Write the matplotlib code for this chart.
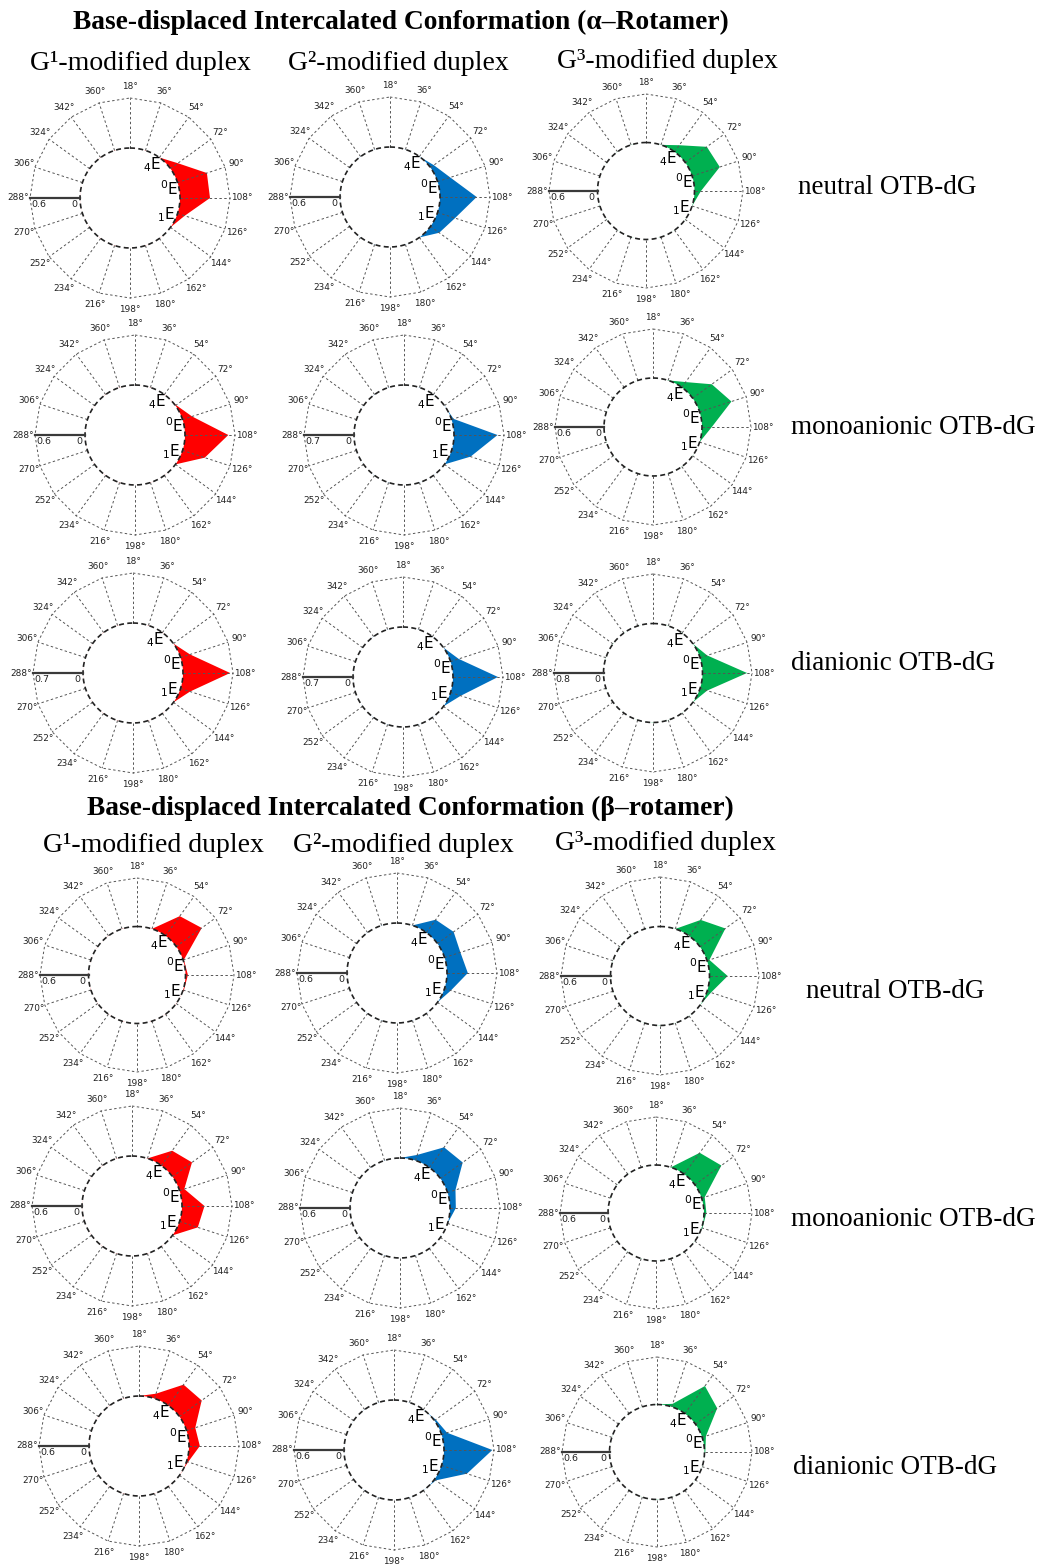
import numpy as np
import matplotlib
matplotlib.use('Agg')
import matplotlib.pyplot as plt

# pseudorotation phase angle P (deg) of each spoke on the wheel
phase = np.arange(18, 361, 18)
phase_labels = ['%d°' % p for p in phase]

# sugar pucker populations at each P, one list per duplex (G1, G2, G3)
#                P: 18  36    54    72    90    108   126   144  ... 360
alpha_neutral = [
    [0, 0, 0, 0.11, 0.37, 0.36, 0.09, 0, 0, 0, 0, 0, 0, 0, 0, 0, 0, 0, 0, 0],
    [0, 0, 0, 0.05, 0.16, 0.44, 0.22, 0.13, 0, 0, 0, 0, 0, 0, 0, 0, 0, 0, 0, 0],
    [0, 0, 0.10, 0.33, 0.36, 0.08, 0, 0, 0, 0, 0, 0, 0, 0, 0, 0, 0, 0, 0, 0],
]
alpha_mono = [
    [0, 0, 0, 0.01, 0.12, 0.52, 0.28, 0, 0, 0, 0, 0, 0, 0, 0, 0, 0, 0, 0, 0],
    [0, 0, 0, 0, 0.03, 0.61, 0.28, 0, 0, 0, 0, 0, 0, 0, 0, 0, 0, 0, 0, 0],
    [0, 0, 0.08, 0.29, 0.41, 0.12, 0, 0, 0, 0, 0, 0, 0, 0, 0, 0, 0, 0, 0, 0],
]
alpha_di = [
    [0, 0, 0, 0, 0.14, 0.66, 0.14, 0, 0, 0, 0, 0, 0, 0, 0, 0, 0, 0, 0, 0],
    [0, 0, 0, 0, 0.12, 0.63, 0.15, 0, 0, 0, 0, 0, 0, 0, 0, 0, 0, 0, 0, 0],
    [0, 0, 0, 0, 0.12, 0.72, 0.12, 0, 0, 0, 0, 0, 0, 0, 0, 0, 0, 0, 0, 0],
]
beta_neutral = [
    [0, 0, 0.30, 0.39, 0.01, 0.03, 0.01, 0, 0, 0, 0, 0, 0, 0, 0, 0, 0, 0, 0, 0],
    [0, 0, 0.19, 0.24, 0.20, 0.25, 0.08, 0, 0, 0, 0, 0, 0, 0, 0, 0, 0, 0, 0, 0],
    [0, 0, 0.24, 0.38, 0.03, 0.22, 0.05, 0, 0, 0, 0, 0, 0, 0, 0, 0, 0, 0, 0, 0],
]
beta_mono = [
    [0, 0, 0.22, 0.29, 0.06, 0.27, 0.23, 0, 0, 0, 0, 0, 0, 0, 0, 0, 0, 0, 0, 0],
    [0, 0.07, 0.30, 0.33, 0.10, 0.07, 0, 0, 0, 0, 0, 0, 0, 0, 0, 0, 0, 0, 0, 0],
    [0, 0, 0.33, 0.41, 0.04, 0.03, 0.01, 0, 0, 0, 0, 0, 0, 0, 0, 0, 0, 0, 0, 0],
]
beta_di = [
    [0, 0.06, 0.31, 0.33, 0.11, 0.13, 0.02, 0, 0, 0, 0, 0, 0, 0, 0, 0, 0, 0, 0, 0],
    [0, 0, 0, 0.02, 0.07, 0.58, 0.32, 0.02, 0, 0, 0, 0, 0, 0, 0, 0, 0, 0, 0, 0],
    [0, 0.04, 0.43, 0.34, 0.05, 0.01, 0, 0, 0, 0, 0, 0, 0, 0, 0, 0, 0, 0, 0, 0],
]

# radial axis maximum of each wheel
alpha_rmax = [[0.6, 0.6, 0.6], [0.6, 0.7, 0.6], [0.7, 0.7, 0.8]]
beta_rmax = [[0.6, 0.6, 0.6], [0.6, 0.6, 0.6], [0.6, 0.6, 0.6]]

duplex_colors = ['#FF0000', '#0070C0', '#00B050']
duplex_titles = ['G¹-modified duplex', 'G²-modified duplex', 'G³-modified duplex']
state_labels = ['neutral OTB-dG', 'monoanionic OTB-dG', 'dianionic OTB-dG']

W, H = 1040, 1565
fig = plt.figure(figsize=(W / 100, H / 100), dpi=100)
serif = 'Liberation Serif'

# wheel centre (x, y from top-left) and outer radius, in pixels
layout = [
    [(130, 198, 100), (390, 197, 100), (646, 191, 97)],
    [(135, 435, 100), (404, 435, 100), (653, 427, 98)],
    [(133, 673, 100), (403, 677, 100), (653, 673, 99)],
    [(137, 975, 97), (397, 973, 100), (660, 976, 99)],
    [(132, 1206, 100), (400, 1208, 100), (656, 1213, 96)],
    [(139, 1446, 100), (394, 1450, 100), (657, 1452, 95)],
]

ring = np.linspace(0, 2 * np.pi, 241)
theta = np.radians(phase - 18)
t288 = np.radians(288 - 18)
grid_kw = dict(color='#555555', lw=0.7, ls=(0, (2.5, 2.5)), clip_on=False)


def wheel(ax, vals, rmax, color):
    ax.set_theta_zero_location('N')
    ax.set_theta_direction(-1)
    ax.patch.set_alpha(0)
    ax.grid(False)
    for sp in ax.spines.values():
        sp.set_visible(False)

    ax.fill(theta, vals, color=color, lw=0, zorder=1)
    # blank hub: r runs from -rmax at the centre to 0 at the hub edge
    ax.fill(ring, np.zeros_like(ring), facecolor='white', edgecolor='none',
            lw=0, zorder=2)

    for t in theta:
        ax.plot([t, t], [0, rmax], zorder=3, **grid_kw)
    ax.plot(np.append(theta, theta[0]), np.full(len(theta) + 1, rmax),
            zorder=3, **grid_kw)
    ax.plot(ring, np.zeros_like(ring), color='#222222', lw=1.2,
            ls=(0, (3.0, 2.0)), zorder=4, clip_on=False)

    ax.plot([t288, t288], [0, rmax], color='#3a3a3a', lw=1.6, zorder=5,
            clip_on=False)
    ax.annotate('%.1f' % rmax, xy=(t288, rmax), xytext=(1, -1.5),
                textcoords='offset points', ha='left', va='top', fontsize=6.8,
                color='#222222')
    ax.annotate('0', xy=(t288, 0), xytext=(-2, -1.5),
                textcoords='offset points', ha='right', va='top', fontsize=6.8,
                color='#222222')

    for lab, ang in [(r'$_4$E', 34), (r'$^0$E', 76), (r'$_1$E', 115)]:
        ax.text(np.radians(ang), -0.2 * rmax, lab, ha='center', va='center',
                fontsize=11, color='black', zorder=6)

    ax.set_xticks(theta)
    ax.set_xticklabels(phase_labels, fontsize=6.4, color='#222222')
    ax.tick_params(axis='x', pad=1.5, length=0)
    ax.set_yticks([])
    ax.set_ylim(-rmax, rmax)


rows = alpha_neutral, alpha_mono, alpha_di, beta_neutral, beta_mono, beta_di
rmaxes = alpha_rmax + beta_rmax
for i, row in enumerate(rows):
    for j, vals in enumerate(row):
        cx, cy, R = layout[i][j]
        ax = fig.add_axes([(cx - R) / W, 1 - (cy + R) / H, 2 * R / W, 2 * R / H],
                          projection='polar')
        wheel(ax, vals, rmaxes[i][j], duplex_colors[j])

# headings
fig.text(401 / W, 1 - 22 / H, 'Base-displaced Intercalated Conformation (α–Rotamer)',
         family=serif, weight='bold', fontsize=19.8, ha='center', va='center')
fig.text(410 / W, 1 - 808 / H, 'Base-displaced Intercalated Conformation (β–rotamer)',
         family=serif, weight='bold', fontsize=19.8, ha='center', va='center')

for x, y, t in zip([140, 398, 667], [63, 63, 62], duplex_titles):
    fig.text(x / W, 1 - y / H, t, family=serif, fontsize=20, ha='center', va='center')
for x, y, t in zip([153, 403, 665], [845, 845, 843], duplex_titles):
    fig.text(x / W, 1 - y / H, t, family=serif, fontsize=20, ha='center', va='center')

for x, y, t in zip([887, 913, 893, 895, 913, 895],
                   [188, 427, 663, 991, 1219, 1468],
                   state_labels + state_labels):
    fig.text(x / W, 1 - y / H, t, family=serif, fontsize=19.5, ha='center', va='center')

fig.savefig('out.png', dpi=100)
